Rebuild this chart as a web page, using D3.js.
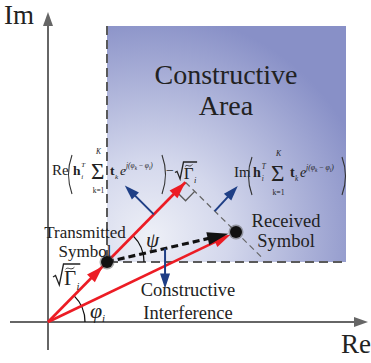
<!DOCTYPE html>
<html>
<head>
<meta charset="utf-8">
<script src="https://cdn.jsdelivr.net/npm/d3@7"></script>
<style>
  html, body { margin: 0; padding: 0; background: #fff; }
  svg { display: block; }
</style>
</head>
<body>
<svg id="chart" width="371" height="363"></svg>
<script>
// ---- complex-plane quantities (plane units) ----
const axisRe = [-38, 320];          // extent of the real axis
const axisIm = [-28, 310];          // extent of the imaginary axis
const transmitted = [59, 60];       // transmitted symbol  sqrt(Gamma_i) e^{j phi_i}
const received = [188, 90];         // received (noise-free) symbol
const regionMax = [298, 296];       // upper-right corner of the constructive area
// blue direction arrows: [anchor segment, fraction along it, dRe, dIm]
const blueArrows = [
  ["OF", 0.77, -29, 29],
  ["FR", 0.58, 23, 25],
  ["TR", 0.45, 0, -40]
];
const axisLabels = ["Re", "Im"];
const areaLabel = ["Constructive", "Area"];
const txLabel = ["Transmitted", "Symbol"];
const rxLabel = ["Received", "Symbol"];
const ciLabel = ["Constructive", "Interference"];

const FONT = "Liberation Serif";
const svg = d3.select("#chart");
const x = d3.scaleLinear().domain(axisRe).range([10, 368]);
const y = d3.scaleLinear().domain(axisIm).range([350, 12]);
const P = p => [x(p[0]), y(p[1])];

const RED = "#ec1c24", BLUE = "#1f3f86", GREY = "#5a5a5a", INK = "#222";

// foot of the perpendicular from the received symbol onto the transmitted direction
const tt = (transmitted[0]*received[0] + transmitted[1]*received[1]) /
           (transmitted[0]**2 + transmitted[1]**2);
const foot = [transmitted[0]*tt, transmitted[1]*tt];
const origin = [0, 0];

// ---- constructive area ----
const defs = svg.append("defs");
const grad = defs.append("radialGradient").attr("id", "areaGrad")
  .attr("gradientUnits", "userSpaceOnUse")
  .attr("cx", 150).attr("cy", 238).attr("r", 225);
grad.append("stop").attr("offset", 0).attr("stop-color", "#eef0f7");
grad.append("stop").attr("offset", 0.35).attr("stop-color", "#d3d7ec");
grad.append("stop").attr("offset", 1).attr("stop-color", "#8890c7");

const [ax0, ay0] = P(transmitted), [ax1, ay1] = P(regionMax);
svg.append("rect").attr("x", ax0).attr("y", ay1)
  .attr("width", ax1 - ax0).attr("height", ay0 - ay1)
  .attr("fill", "url(#areaGrad)");
svg.append("path")
  .attr("d", d3.line()([[ax0, ay1], [ax0, ay0], [ax1, ay0]]))
  .attr("fill", "none").attr("stroke", GREY).attr("stroke-width", 2)
  .attr("stroke-dasharray", "9,5");

function tx(xp, yp, s, size, opt = {}) {
  const t = svg.append("text").attr("x", xp).attr("y", yp)
    .attr("font-family", FONT).attr("font-size", size).attr("fill", INK).text(s);
  if (opt.italic) t.attr("font-style", "italic");
  if (opt.bold) t.attr("font-weight", "bold");
  if (opt.anchor) t.attr("text-anchor", opt.anchor);
  return t;
}

tx(226, 84, areaLabel[0], 28, {anchor: "middle"});
tx(226, 115, areaLabel[1], 28, {anchor: "middle"});

// ---- axes ----
function arrowHead(tip, ang, len, wid, color) {
  const [tx0, ty0] = tip, c = Math.cos(ang), s = Math.sin(ang);
  const bx = tx0 - len*c, by = ty0 - len*s;
  svg.append("path")
    .attr("d", `M${tx0},${ty0}L${bx - wid/2*s},${by + wid/2*c}L${bx + wid/2*s},${by - wid/2*c}Z`)
    .attr("fill", color);
}
function seg(a, b, color, w, dash) {
  const l = svg.append("line").attr("x1", a[0]).attr("y1", a[1])
    .attr("x2", b[0]).attr("y2", b[1]).attr("stroke", color).attr("stroke-width", w);
  if (dash) l.attr("stroke-dasharray", dash);
  return l;
}
const ang = (a, b) => Math.atan2(b[1] - a[1], b[0] - a[0]);

seg([x(axisRe[0]), y(0)], [x(axisRe[1]) - 10, y(0)], "#666", 2);
arrowHead([x(axisRe[1]), y(0)], 0, 14, 10, "#666");
seg([x(0), y(axisIm[0])], [x(0), y(axisIm[1]) + 10], "#666", 2);
arrowHead([x(0), y(axisIm[1])], -Math.PI/2, 14, 10, "#666");

tx(341, 353, axisLabels[0], 27);
tx(4, 24, axisLabels[1], 27);

// ---- geometry helpers ----
const O = P(origin), T = P(transmitted), R = P(received), F = P(foot);
const lerp = (a, b, f) => [a[0] + (b[0]-a[0])*f, a[1] + (b[1]-a[1])*f];
const segs = { OF: [origin, foot], FR: [foot, received], TR: [transmitted, received] };

// perpendicular (grey dashed) through the received symbol
const perpEnd = lerp(foot, received, 1.5);
seg(F, P(perpEnd), "#666", 1.2, "6,4");

// right-angle marker at the foot
{
  const u1 = [T[0]-F[0], T[1]-F[1]], n1 = Math.hypot(...u1);
  const u2 = [R[0]-F[0], R[1]-F[1]], n2 = Math.hypot(...u2);
  const s = 13;
  const a = [F[0] + u1[0]/n1*s, F[1] + u1[1]/n1*s];
  const b = [F[0] + u2[0]/n2*s, F[1] + u2[1]/n2*s];
  const c = [a[0] + u2[0]/n2*s, a[1] + u2[1]/n2*s];
  svg.append("path").attr("d", d3.line()([a, c, b]))
    .attr("fill", "none").attr("stroke", GREY).attr("stroke-width", 1.4);
}

// ---- angle arcs ----
function arcAt(c, r, a0, a1) {
  svg.append("path")
    .attr("d", d3.arc()({innerRadius: r, outerRadius: r, startAngle: a0, endAngle: a1}))
    .attr("transform", `translate(${c[0]},${c[1]})`)
    .attr("fill", "none").attr("stroke", "#111").attr("stroke-width", 1.3);
}
const phi = Math.atan2(transmitted[1], transmitted[0]);
arcAt(O, 37, Math.PI/2 - phi, Math.PI/2);
arcAt(T, 37, Math.PI/2 - phi, Math.PI/2);

// ---- red vectors ----
seg(O, F, RED, 2.6);
arrowHead(lerp(O, T, 0.93), ang(O, T), 17, 11, RED);
arrowHead(F, ang(O, F), 17, 11, RED);
const Rtip = lerp(O, R, 0.97);
seg(O, lerp(O, R, 0.92), RED, 2.6);
arrowHead(Rtip, ang(O, R), 17, 11, RED);

// ---- black dashed difference vector ----
const Btip = lerp(T, R, 0.94);
seg(T, lerp(T, R, 0.84), "#111", 3.2, "7,4");
arrowHead(Btip, ang(T, R), 21, 13, "#111");

// ---- blue arrows ----
blueArrows.forEach(([k, f, dr, di]) => {
  const s0 = lerp(segs[k][0], segs[k][1], f);
  const s1 = [s0[0] + dr, s0[1] + di];
  const a = P(s0), b = P(s1);
  seg(a, lerp(a, b, 0.7), BLUE, 2);
  arrowHead(b, ang(a, b), 15, 10, BLUE);
});

// ---- symbol dots ----
[T, R].forEach(p => {
  svg.append("circle").attr("cx", p[0]).attr("cy", p[1]).attr("r", 7.5)
    .attr("fill", "#555").attr("opacity", 0.5);
  svg.append("circle").attr("cx", p[0]).attr("cy", p[1]).attr("r", 6)
    .attr("fill", "#111");
});

// ---- labels ----
function lines(lbl, cx, y0, dy, size) {
  lbl.forEach((t, i) => tx(cx, y0 + i*dy, t, size, {anchor: "middle"}));
}
lines(txLabel, 85, 238, 19, 17);
lines(rxLabel, 286, 227, 20, 18.5);
lines(ciLabel, 188, 296, 23, 18.5);

// math helpers
function paren(x0, top, bot, left) {
  const d = left ? -7 : 7;
  svg.append("path")
    .attr("d", `M${x0},${top}Q${x0 + d},${(top+bot)/2} ${x0},${bot}`)
    .attr("fill", "none").attr("stroke", "#333").attr("stroke-width", 1.1);
}
function sqrtGamma(x0, yb, size) {
  // radical sign with overline, Gamma with a tilde, subscript i
  const h = size * 1.0;
  svg.append("path")
    .attr("d", `M${x0},${yb - h*0.38}L${x0 + size*0.12},${yb - h*0.45}L${x0 + size*0.3},${yb}L${x0 + size*0.5},${yb - h}L${x0 + size*1.3},${yb - h}`)
    .attr("fill", "none").attr("stroke", INK).attr("stroke-width", 1.3);
  tx(x0 + size*0.52, yb, "Γ", size);
  const ty = yb - size*0.8, tx0 = x0 + size*0.6, w = size*0.42;
  svg.append("path")
    .attr("d", `M${tx0},${ty + 1}C${tx0 + w*0.3},${ty - 2} ${tx0 + w*0.6},${ty + 3} ${tx0 + w},${ty - 1}`)
    .attr("fill", "none").attr("stroke", INK).attr("stroke-width", 0.9);
  tx(x0 + size*1.12, yb + size*0.22, "i", size*0.5, {italic: true});
}
function sumBlock(x0, yb, sz) {
  tx(x0, yb, "h", sz, {bold: true});
  tx(x0 + sz*0.62, yb + 4, "i", sz*0.52, {italic: true});
  tx(x0 + sz*0.62, yb - 8, "T", sz*0.52, {italic: true});
  tx(x0 + 18, yb + 4, "Σ", 23);
  tx(x0 + 25.5, yb - 21, "K", sz*0.55, {italic: true, anchor: "middle"});
  tx(x0 + 25.5, yb + 18, "k=1", sz*0.55, {anchor: "middle"});
  tx(x0 + 37, yb, "t", sz, {bold: true});
  tx(x0 + 42, yb + 4, "k", sz*0.52, {italic: true});
  tx(x0 + 47, yb, "e", sz, {italic: true});
  const sp = tx(x0 + 53, yb - 7, "", sz*0.55, {italic: true});
  sp.append("tspan").text("j(");
  sp.append("tspan").text("φ");
  sp.append("tspan").attr("font-size", sz*0.38).attr("dy", 2).text("k");
  sp.append("tspan").attr("dy", -2).attr("font-style", "normal").text(" − ");
  sp.append("tspan").text("φ");
  sp.append("tspan").attr("font-size", sz*0.38).attr("dy", 2).text("i");
  sp.append("tspan").attr("dy", -2).text(")");
}
// Re( ... ) - sqrt(Gamma)
tx(52, 175, "Re", 15);
paren(72, 155, 194, true);
sumBlock(73, 175, 13.5);
paren(162, 155, 194, false);
tx(166, 175, "−", 14);
sqrtGamma(175, 179, 17);
// Im( ... )
tx(234, 177, "Im", 15);
paren(252, 157, 195, true);
sumBlock(253, 177, 14);
paren(342, 157, 195, false);

// sqrt(Gamma_i) along the transmitted vector
sqrtGamma(53, 285, 21);

// angle labels
tx(146, 247, "ψ", 21, {italic: true});
tx(90, 318, "φ", 22, {italic: true});
tx(102, 322, "i", 11, {italic: true});
</script>
</body>
</html>
